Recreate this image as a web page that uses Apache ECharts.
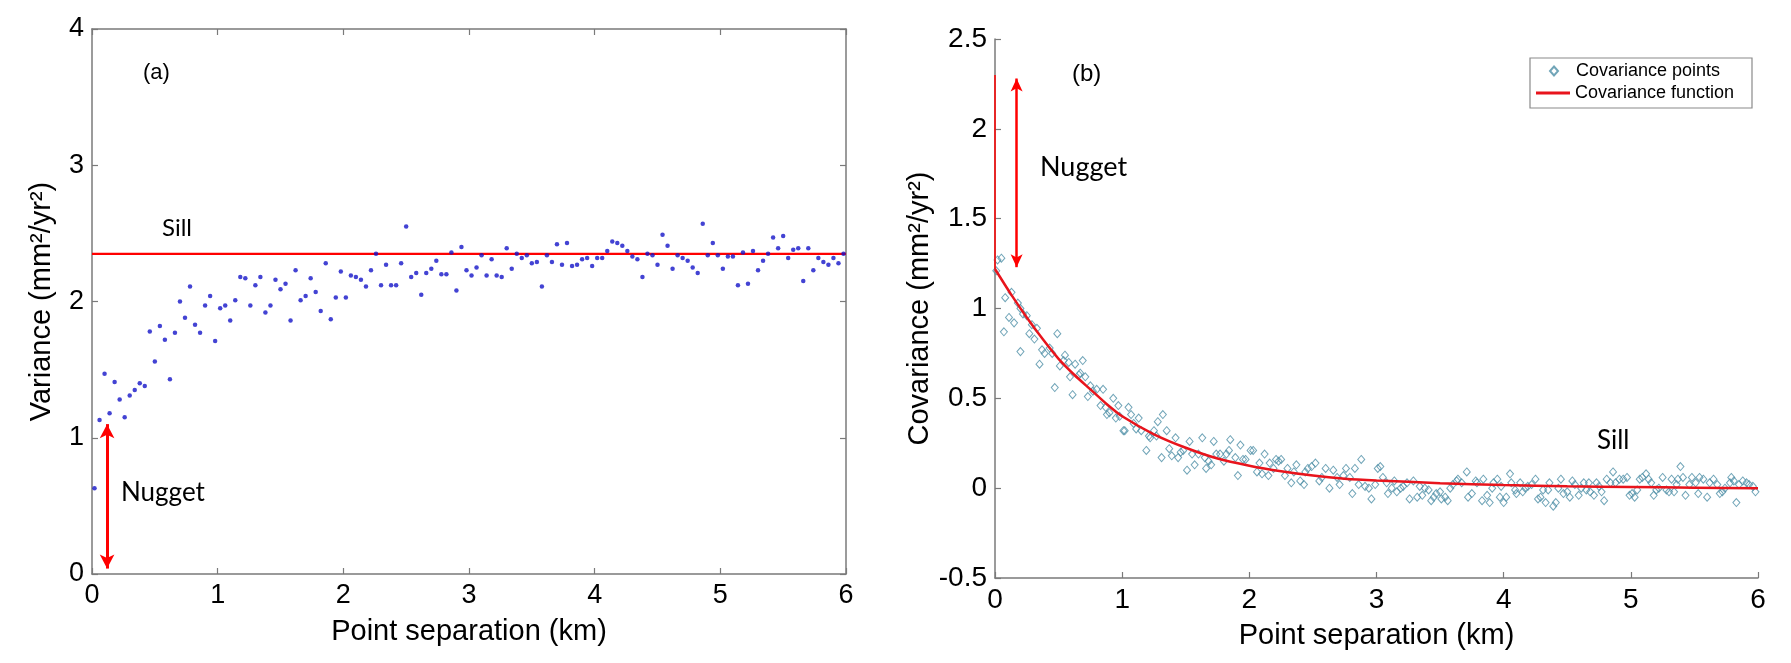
<!DOCTYPE html>
<html><head><meta charset="utf-8">
<script src="https://cdn.jsdelivr.net/npm/echarts@6/dist/echarts.min.js"></script>
<style>html,body{margin:0;padding:0;background:#fff}#c{width:1791px;height:663px}</style>
</head><body><div id="c"></div>
<script>
// ---------- Panel (a): variance points ----------
const varX = [
0.02,0.06,0.10,0.14,0.18,0.22,0.26,0.30,0.34,0.38,
0.42,0.46,0.50,0.54,0.58,0.62,0.66,0.70,0.74,0.78,
0.82,0.86,0.90,0.94,0.98,1.02,1.06,1.10,1.14,1.18,
1.22,1.26,1.30,1.34,1.38,1.42,1.46,1.50,1.54,1.58,
1.62,1.66,1.70,1.74,1.78,1.82,1.86,1.90,1.94,1.98,
2.02,2.06,2.10,2.14,2.18,2.22,2.26,2.30,2.34,2.38,
2.42,2.46,2.50,2.54,2.58,2.62,2.66,2.70,2.74,2.78,
2.82,2.86,2.90,2.94,2.98,3.02,3.06,3.10,3.14,3.18,
3.22,3.26,3.30,3.34,3.38,3.42,3.46,3.50,3.54,3.58,
3.62,3.66,3.70,3.74,3.78,3.82,3.86,3.90,3.94,3.98,
4.02,4.06,4.10,4.14,4.18,4.22,4.26,4.30,4.34,4.38,
4.42,4.46,4.50,4.54,4.58,4.62,4.66,4.70,4.74,4.78,
4.82,4.86,4.90,4.94,4.98,5.02,5.06,5.10,5.14,5.18,
5.22,5.26,5.30,5.34,5.38,5.42,5.46,5.50,5.54,5.58,
5.62,5.66,5.70,5.74,5.78,5.82,5.86,5.90,5.94,5.98];
const varY = [
0.63,1.13,1.47,1.18,1.41,1.28,1.15,1.31,1.35,1.40,
1.38,1.78,1.56,1.82,1.72,1.43,1.77,2.00,1.88,2.11,
1.83,1.77,1.97,2.04,1.71,1.95,1.97,1.86,2.01,2.18,
2.17,1.97,2.12,2.18,1.92,1.97,2.16,2.09,2.13,1.86,
2.23,2.01,2.04,2.17,2.07,1.93,2.28,1.87,2.03,2.22,
2.03,2.19,2.18,2.16,2.11,2.23,2.35,2.12,2.27,2.12,
2.12,2.28,2.55,2.18,2.21,2.05,2.21,2.24,2.30,2.20,
2.20,2.36,2.08,2.40,2.23,2.19,2.25,2.34,2.19,2.31,
2.19,2.18,2.39,2.24,2.35,2.32,2.34,2.28,2.29,2.11,
2.34,2.29,2.42,2.27,2.43,2.26,2.27,2.31,2.32,2.26,
2.32,2.32,2.37,2.44,2.43,2.41,2.37,2.33,2.31,2.18,
2.35,2.34,2.27,2.49,2.41,2.24,2.34,2.32,2.30,2.25,
2.21,2.57,2.34,2.43,2.34,2.24,2.33,2.33,2.12,2.36,
2.13,2.37,2.23,2.30,2.35,2.47,2.39,2.48,2.32,2.38,
2.39,2.15,2.39,2.23,2.32,2.29,2.27,2.32,2.28,2.35];
const sillLevelA = 2.35;
const nuggetArrowA = [[0.12, 0.04], [0.12, 1.10]];

// ---------- Panel (b): covariance points ----------
const covPoints = [
[0.02,1.27],[0.05,1.28],[0.01,1.21],[0.08,1.06],[0.07,0.87],[0.11,0.95],[0.13,1.09],[0.15,0.92],[0.18,1.03],[0.20,0.76],
[0.20,1.00],[0.22,0.97],[0.25,0.96],[0.27,0.86],[0.29,0.91],[0.31,0.83],[0.33,0.89],[0.35,0.69],[0.37,0.77],[0.39,0.75],
[0.43,0.78],[0.45,0.75],[0.47,0.56],[0.49,0.86],[0.51,0.68],[0.54,0.71],[0.55,0.74],[0.58,0.70],[0.59,0.62],[0.61,0.52],
[0.63,0.69],[0.66,0.63],[0.67,0.64],[0.69,0.71],[0.71,0.62],[0.73,0.51],[0.75,0.57],[0.77,0.54],[0.80,0.55],[0.83,0.46],
[0.85,0.55],[0.87,0.45],[0.88,0.41],[0.90,0.42],[0.93,0.50],[0.95,0.39],[0.97,0.46],[0.98,0.40],[1.01,0.32],[1.02,0.32],
[1.05,0.45],[1.07,0.41],[1.09,0.36],[1.11,0.33],[1.13,0.39],[1.15,0.32],[1.19,0.21],[1.21,0.29],[1.22,0.28],[1.25,0.32],
[1.27,0.29],[1.28,0.37],[1.31,0.17],[1.32,0.41],[1.35,0.32],[1.37,0.22],[1.39,0.18],[1.42,0.28],[1.44,0.17],[1.46,0.20],
[1.48,0.21],[1.51,0.10],[1.53,0.26],[1.55,0.19],[1.57,0.13],[1.60,0.19],[1.63,0.28],[1.65,0.17],[1.66,0.11],[1.68,0.15],
[1.70,0.13],[1.72,0.26],[1.74,0.19],[1.77,0.19],[1.80,0.15],[1.82,0.19],[1.84,0.21],[1.85,0.27],[1.89,0.17],[1.91,0.07],
[1.93,0.24],[1.95,0.16],[1.97,0.16],[2.01,0.21],[2.03,0.21],[2.06,0.09],[2.08,0.14],[2.10,0.08],[2.12,0.19],[2.15,0.07],
[2.16,0.14],[2.19,0.11],[2.21,0.16],[2.23,0.15],[2.25,0.16],[2.28,0.07],[2.30,0.11],[2.33,0.03],[2.35,0.09],[2.37,0.13],
[2.40,0.04],[2.43,0.02],[2.44,0.09],[2.46,0.11],[2.49,0.12],[2.52,0.14],[2.55,0.04],[2.57,0.06],[2.60,0.11],[2.63,0.00],
[2.66,0.10],[2.69,0.06],[2.71,0.02],[2.74,0.07],[2.76,0.11],[2.79,0.06],[2.81,-0.03],[2.83,0.11],[2.86,0.02],[2.88,0.16],
[2.91,0.01],[2.94,0.00],[2.96,-0.06],[2.99,0.02],[3.01,0.11],[3.03,0.12],[3.05,0.06],[3.08,0.03],[3.09,-0.03],[3.12,0.00],
[3.14,0.04],[3.16,-0.02],[3.19,0.00],[3.21,0.01],[3.24,0.03],[3.26,-0.06],[3.29,0.04],[3.32,-0.05],[3.34,0.01],[3.36,-0.04],
[3.38,0.00],[3.41,-0.01],[3.43,-0.07],[3.45,-0.05],[3.47,-0.03],[3.50,-0.02],[3.51,-0.06],[3.54,-0.05],[3.56,-0.07],[3.58,0.00],
[3.60,0.02],[3.63,0.04],[3.64,0.05],[3.67,0.03],[3.71,0.09],[3.72,-0.05],[3.75,-0.03],[3.78,0.04],[3.79,0.03],[3.83,-0.07],
[3.84,0.05],[3.87,-0.04],[3.89,-0.08],[3.91,0.00],[3.92,0.03],[3.95,0.05],[3.97,-0.05],[3.98,0.01],[4.00,-0.08],[4.02,-0.05],
[4.05,0.08],[4.06,0.03],[4.09,-0.01],[4.10,-0.03],[4.13,0.03],[4.15,-0.02],[4.17,0.00],[4.19,0.01],[4.22,0.02],[4.25,0.05],
[4.27,-0.06],[4.29,-0.05],[4.31,-0.01],[4.33,-0.08],[4.35,-0.01],[4.36,0.03],[4.39,-0.10],[4.41,-0.08],[4.43,0.00],[4.45,0.05],
[4.47,-0.03],[4.50,-0.02],[4.52,-0.05],[4.54,0.04],[4.56,0.02],[4.59,-0.04],[4.61,0.00],[4.63,0.03],[4.65,-0.01],[4.67,0.03],
[4.68,-0.02],[4.71,-0.04],[4.73,0.03],[4.75,0.01],[4.77,-0.02],[4.79,-0.07],[4.81,0.05],[4.84,0.03],[4.86,0.09],[4.88,0.03],
[4.91,0.05],[4.94,0.05],[4.97,0.06],[4.99,-0.04],[5.01,-0.03],[5.03,-0.05],[5.05,-0.01],[5.07,0.05],[5.09,0.06],[5.12,0.08],
[5.14,0.05],[5.16,0.03],[5.18,-0.04],[5.20,-0.01],[5.22,0.00],[5.25,0.06],[5.28,-0.01],[5.30,-0.02],[5.32,0.05],[5.34,-0.02],
[5.36,0.02],[5.37,0.05],[5.39,0.12],[5.41,0.06],[5.43,-0.04],[5.46,0.02],[5.48,0.06],[5.51,0.03],[5.53,-0.03],[5.54,0.06],
[5.57,0.05],[5.60,-0.05],[5.62,0.03],[5.65,0.05],[5.68,0.02],[5.70,-0.03],[5.72,-0.02],[5.74,0.00],[5.78,0.03],[5.79,0.06],
[5.81,0.04],[5.83,-0.08],[5.85,0.02],[5.88,0.04],[5.91,0.03],[5.93,0.02],[5.96,0.01],[5.98,-0.02]];
// covariance function
const covFnX = [0, 0.125, 0.25, 0.375, 0.5, 0.625, 0.75, 0.875, 1.0, 1.25, 1.5, 1.75, 2.0, 2.25, 2.5, 2.75, 3.0, 3.5, 4.0, 4.5, 5.0, 5.5, 6.0];
const covFnY = [1.22, 1.08, 0.95, 0.83, 0.72, 0.63, 0.55, 0.47, 0.40, 0.30, 0.225, 0.165, 0.125, 0.094, 0.07, 0.053, 0.043, 0.028, 0.017, 0.010, 0.006, 0.003, 0.0];
const nuggetJumpB = [[0, 2.30], [0, 1.22]];
const nuggetArrowB = [[0.17, 1.23], [0.17, 2.28]];

// axis ranges / ticks
const xRange = [0, 6], xStep = 1;
const yRangeA = [0, 4], yStepA = 1;
const yRangeB = [-0.5, 2.5], yStepB = 0.5;

const FONT = 'Liberation Sans, Arial, sans-serif';
const NOTE = 'Lato, "Open Sans", sans-serif';
const AX = '#7a7a7a';

function valAxis(grid, range, step, pos, showLabel, size, extra) {
  return Object.assign({
    type: 'value', gridIndex: grid, min: range[0], max: range[1], interval: step, position: pos,
    axisLine: { show: true, onZero: false, lineStyle: { color: AX, width: 1.5 } },
    axisTick: { show: true, inside: true, length: 6, lineStyle: { color: AX, width: 1.2 } },
    axisLabel: { show: showLabel, color: '#000', fontSize: size, fontFamily: FONT },
    splitLine: { show: false }
  }, extra || {});
}

// legend box geometry (pixels)
const LG = { left: 1530, top: 58, width: 222, height: 50 };

const chart = echarts.init(document.getElementById('c'), null, { renderer: 'canvas' });
chart.setOption({
  animation: false,
  backgroundColor: '#fff',
  grid: [
    { left: 92, top: 29, width: 754, height: 545 },
    { left: 995, top: 39, width: 763, height: 539 }
  ],
  xAxis: [
    valAxis(0, xRange, xStep, 'bottom', true, 27, {
      name: 'Point separation (km)', nameLocation: 'middle', nameGap: 43,
      nameTextStyle: { fontSize: 29, color: '#000', fontFamily: FONT }
    }),
    valAxis(0, xRange, xStep, 'top', false, 27),
    valAxis(1, xRange, xStep, 'bottom', true, 28, {
      name: 'Point separation (km)', nameLocation: 'middle', nameGap: 43,
      nameTextStyle: { fontSize: 29, color: '#000', fontFamily: FONT }
    })
  ],
  yAxis: [
    valAxis(0, yRangeA, yStepA, 'left', true, 27, {
      name: 'Variance (mm²/yr²)', nameLocation: 'middle', nameGap: 36, nameRotate: 90,
      nameTextStyle: { fontSize: 29, color: '#000', fontFamily: FONT }
    }),
    valAxis(0, yRangeA, yStepA, 'right', false, 27),
    valAxis(1, yRangeB, yStepB, 'left', true, 28, {
      name: 'Covariance (mm²/yr²)', nameLocation: 'middle', nameGap: 50, nameRotate: 90,
      nameTextStyle: { fontSize: 29, color: '#000', fontFamily: FONT }
    })
  ],
  legend: [
    {
      data: [{ name: 'Covariance points', icon: 'diamond' }],
      left: LG.left + 19, top: LG.top + 4, padding: 0,
      itemWidth: 8, itemHeight: 9,
      textStyle: { fontSize: 18, color: '#000', fontFamily: FONT, padding: [0, 0, 0, 13] }
    },
    {
      data: [{ name: 'Covariance function', icon: 'rect', itemStyle: { color: '#e8141c' } }],
      left: LG.left + 6, top: LG.top + 26, padding: 0,
      itemWidth: 34, itemHeight: 3,
      textStyle: { fontSize: 18, color: '#000', fontFamily: FONT }
    }
  ],
  series: [
    {
      type: 'scatter', xAxisIndex: 0, yAxisIndex: 0,
      data: varX.map((x, i) => [x, varY[i]]),
      symbol: 'circle', symbolSize: 4.5,
      itemStyle: { color: '#1414c8' }, z: 3,
      markLine: {
        silent: true, symbol: ['arrow', 'arrow'], symbolSize: [11, 14],
        label: { show: false },
        lineStyle: { color: '#ff0000', width: 3, type: 'solid' },
        data: [[{ coord: nuggetArrowA[0] }, { coord: nuggetArrowA[1] }]]
      }
    },
    {
      type: 'line', xAxisIndex: 0, yAxisIndex: 0,
      data: [[xRange[0], sillLevelA], [xRange[1], sillLevelA]],
      symbol: 'none', lineStyle: { color: '#ff0000', width: 2.2 }, z: 2
    },
    {
      name: 'Covariance points', type: 'scatter', xAxisIndex: 2, yAxisIndex: 2,
      data: covPoints, symbol: 'diamond', symbolSize: [7, 8],
      itemStyle: { color: 'rgba(255,255,255,0)', borderColor: '#4d8fa6', borderWidth: 1 }, z: 2
    },
    {
      name: 'Covariance function', type: 'line', xAxisIndex: 2, yAxisIndex: 2,
      data: covFnX.map((x, i) => [x, covFnY[i]]), smooth: 0.25,
      symbol: 'none', lineStyle: { color: '#e8141c', width: 2.5 }, itemStyle: { color: '#e8141c' }, z: 4
    },
    {
      type: 'line', xAxisIndex: 2, yAxisIndex: 2, data: nuggetJumpB,
      symbol: 'none', lineStyle: { color: '#ff0000', width: 1.5 }, z: 4,
      markLine: {
        silent: true, symbol: ['arrow', 'arrow'], symbolSize: [9, 13],
        label: { show: false },
        lineStyle: { color: '#ff0000', width: 2.5, type: 'solid' },
        data: [[{ coord: nuggetArrowB[0] }, { coord: nuggetArrowB[1] }]]
      }
    }
  ],
  graphic: [
    { type: 'rect', z: 1, shape: { x: LG.left, y: LG.top, width: LG.width, height: LG.height },
      style: { fill: '#fff', stroke: '#8a8a8a', lineWidth: 1.2 } },
    { type: 'text', left: 143, top: 62, style: { text: '(a)', font: '22px ' + FONT, fill: '#000' } },
    { type: 'text', left: 162, top: 216, style: { text: 'Sill', font: '24px ' + NOTE, fill: '#000' } },
    { type: 'text', left: 121, top: 480, style: { text: 'Nugget', font: '26px ' + NOTE, fill: '#000' } },
    { type: 'text', left: 1072, top: 62, style: { text: '(b)', font: '24px ' + FONT, fill: '#000' } },
    { type: 'text', left: 1040, top: 154, style: { text: 'Nugget', font: '27px ' + NOTE, fill: '#000' } },
    { type: 'text', left: 1597, top: 428, style: { text: 'Sill', font: '26px ' + NOTE, fill: '#000' } }
  ]
});
</script></body></html>
